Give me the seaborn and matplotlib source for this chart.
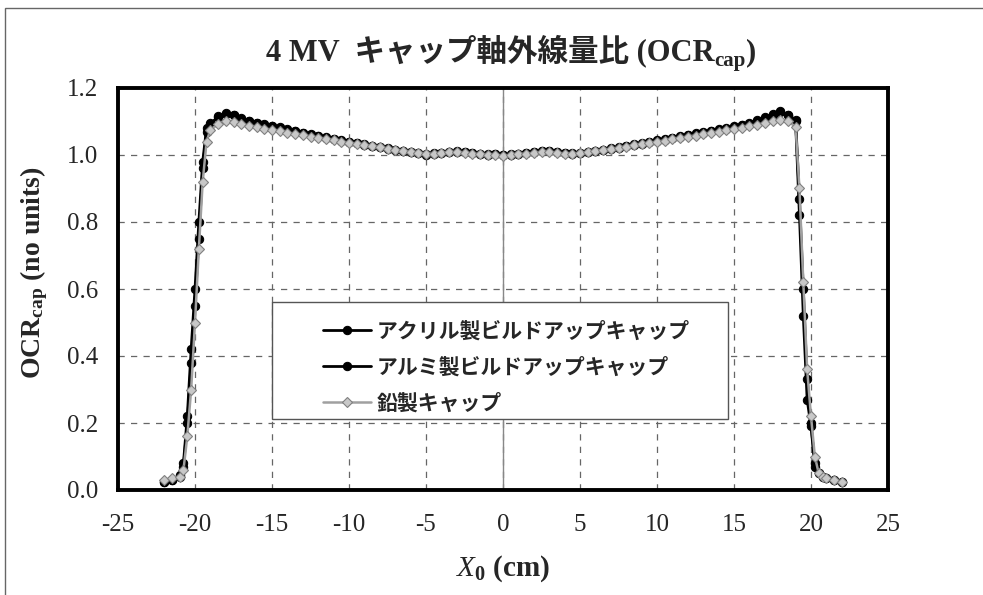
import matplotlib
matplotlib.use("Agg")
import matplotlib.pyplot as plt
import seaborn as sns
import pandas as pd
from matplotlib.patches import Rectangle

# off-axis position (cm)
x_cm = [-22.0, -21.5, -21.0, -20.75, -20.5, -20.25, -20.0, -19.75, -19.5, -19.25, -19.0,
        -18.5, -18.0, -17.5, -17.0, -16.5, -16.0, -15.5, -15.0, -14.5, -14.0,
        -13.5, -13.0, -12.5, -12.0, -11.5, -11.0, -10.5, -10.0, -9.5, -9.0,
        -8.5, -8.0, -7.5, -7.0, -6.5, -6.0, -5.5, -5.0, -4.5, -4.0,
        -3.5, -3.0, -2.5, -2.0, -1.5, -1.0, -0.5, 0.0, 0.5, 1.0,
        1.5, 2.0, 2.5, 3.0, 3.5, 4.0, 4.5, 5.0, 5.5, 6.0,
        6.5, 7.0, 7.5, 8.0, 8.5, 9.0, 9.5, 10.0, 10.5, 11.0,
        11.5, 12.0, 12.5, 13.0, 13.5, 14.0, 14.5, 15.0, 15.5, 16.0,
        16.5, 17.0, 17.5, 18.0, 18.5,
        19.0, 19.25, 19.5, 19.75, 20.0, 20.25, 20.5, 20.75, 21.0, 21.5, 22.0]

acrylic = [0.025, 0.03, 0.04, 0.07, 0.20, 0.38, 0.55, 0.75, 0.96, 1.07, 1.09,
           1.115, 1.125, 1.120, 1.110, 1.100, 1.097, 1.092, 1.087, 1.083, 1.078,
           1.072, 1.067, 1.063, 1.058, 1.053, 1.049, 1.044, 1.040, 1.036, 1.032,
           1.028, 1.024, 1.020, 1.016, 1.012, 1.009, 1.006, 1.000, 1.004, 1.006,
           1.010, 1.011, 1.009, 1.006, 1.004, 1.002, 1.003, 1.000, 1.001, 1.003,
           1.006, 1.008, 1.012, 1.013, 1.010, 1.006, 1.005, 1.006, 1.009, 1.012,
           1.015, 1.019, 1.022, 1.026, 1.030, 1.034, 1.038, 1.042, 1.046, 1.050,
           1.055, 1.059, 1.063, 1.067, 1.071, 1.075, 1.079, 1.084, 1.089, 1.094,
           1.100, 1.108, 1.118, 1.127, 1.118,
           1.10, 0.82, 0.52, 0.27, 0.19, 0.08, 0.05, 0.04, 0.035, 0.03, 0.025]

alumi = [0.025, 0.03, 0.045, 0.08, 0.22, 0.42, 0.60, 0.80, 0.98, 1.08, 1.095,
         1.112, 1.122, 1.118, 1.108, 1.101, 1.095, 1.090, 1.086, 1.081, 1.076,
         1.071, 1.066, 1.061, 1.056, 1.052, 1.047, 1.043, 1.039, 1.035, 1.031,
         1.027, 1.023, 1.019, 1.015, 1.011, 1.008, 1.005, 1.002, 1.005, 1.007,
         1.009, 1.010, 1.008, 1.005, 1.003, 1.001, 1.002, 1.000, 1.002, 1.004,
         1.007, 1.009, 1.013, 1.012, 1.009, 1.006, 1.004, 1.006, 1.010, 1.013,
         1.016, 1.020, 1.024, 1.028, 1.032, 1.036, 1.040, 1.044, 1.048, 1.052,
         1.057, 1.061, 1.065, 1.069, 1.073, 1.077, 1.081, 1.086, 1.091, 1.096,
         1.103, 1.112, 1.121, 1.130, 1.120,
         1.105, 0.87, 0.60, 0.33, 0.20, 0.07, 0.05, 0.04, 0.035, 0.03, 0.025]

lead = [0.03, 0.035, 0.04, 0.06, 0.16, 0.30, 0.50, 0.72, 0.92, 1.04, 1.075,
        1.092, 1.100, 1.098, 1.092, 1.087, 1.083, 1.079, 1.075, 1.071, 1.067,
        1.063, 1.059, 1.055, 1.051, 1.047, 1.044, 1.040, 1.037, 1.033, 1.030,
        1.026, 1.023, 1.019, 1.016, 1.012, 1.009, 1.006, 1.003, 1.004, 1.006,
        1.008, 1.008, 1.006, 1.004, 1.002, 1.001, 1.000, 0.998, 1.000, 1.002,
        1.004, 1.006, 1.008, 1.008, 1.006, 1.004, 1.004, 1.006, 1.009, 1.012,
        1.015, 1.018, 1.022, 1.025, 1.029, 1.032, 1.036, 1.040, 1.043, 1.047,
        1.051, 1.055, 1.058, 1.062, 1.066, 1.070, 1.074, 1.078, 1.082, 1.086,
        1.090, 1.095, 1.101, 1.105, 1.100,
        1.085, 0.90, 0.62, 0.36, 0.22, 0.10, 0.05, 0.04, 0.035, 0.03, 0.025]

labels = ["アクリル製ビルドアップキャップ", "アルミ製ビルドアップキャップ", "鉛製キャップ"]
x_ticks = [-25, -20, -15, -10, -5, 0, 5, 10, 15, 20, 25]
y_ticks = [0.0, 0.2, 0.4, 0.6, 0.8, 1.0, 1.2]

df = pd.DataFrame({"x": x_cm, "acrylic": acrylic, "alumi": alumi, "lead": lead})

sns.set_style("white")
plt.rcParams["font.family"] = ["Liberation Serif", "Noto Sans CJK JP"]
plt.rcParams["mathtext.fontset"] = "custom"
plt.rcParams["mathtext.rm"] = "Liberation Serif"
plt.rcParams["mathtext.it"] = "Liberation Serif:italic"
plt.rcParams["mathtext.bf"] = "Liberation Serif:bold"

fig = plt.figure(figsize=(9.83, 5.95), dpi=100)
fig.patches.append(Rectangle((5 / 983, -0.1), 1.2, 1.1 - 8 / 595, transform=fig.transFigure,
                             fill=False, edgecolor="#666666", lw=1.0))
ax = fig.add_axes([118 / 983, 105 / 595, 770 / 983, 402 / 595])

sns.lineplot(data=df, x="x", y="acrylic", ax=ax, color="black", lw=2.0,
             marker="o", ms=6, mec="black", label=labels[0], zorder=3)
sns.lineplot(data=df, x="x", y="alumi", ax=ax, color="black", lw=2.0,
             marker="o", ms=6, mec="black", label=labels[1], zorder=3)
sns.lineplot(data=df, x="x", y="lead", ax=ax, color="#a0a0a0", lw=1.8,
             marker="D", ms=5, mfc="#c8c8c8", mec="#808080", mew=0.8,
             label=labels[2], zorder=4)

ax.set_xlim(-25, 25)
ax.set_ylim(0, 1.2)
ax.set_xticks(x_ticks)
ax.set_yticks(y_ticks)
ax.set_xticklabels([str(t) for t in x_ticks])
ax.set_yticklabels([f"{t:.1f}" for t in y_ticks])
ax.tick_params(axis="x", direction="in", length=4, width=0.8, color="#555555",
               labelsize=18, pad=17)
ax.tick_params(axis="y", length=0, labelsize=18, pad=14)

ax.grid(True, color="#666666", ls=(0, (5, 5)), lw=0.9)
ax.axvline(0, color="#888888", lw=1.0, zorder=1)
for s in ax.spines.values():
    s.set_linewidth(2.8)
    s.set_color("black")

ax.set_xlabel(r"$\mathit{X}_{\mathregular{0}}$ (cm)", fontsize=21, fontweight="bold", labelpad=13)
ax.set_ylabel(r"OCR$_{\mathbf{cap}}$ (no units)", fontsize=20, fontweight="bold")
ax.yaxis.set_label_coords(-0.088, 0.54)

ax.add_patch(Rectangle((0.2, 0.177), 0.592, 0.291, transform=ax.transAxes,
                       facecolor="white", edgecolor="#555555", lw=1.0, zorder=5))
leg = ax.legend(loc="upper left", bbox_to_anchor=(0.266, 0.422), frameon=False,
                prop={"family": ["Noto Sans CJK JP"], "size": 15, "weight": "bold"},
                handlelength=2.3, handletextpad=0.3, labelspacing=0.72,
                borderpad=0, borderaxespad=0)
leg.set_zorder(6)

# title with subscript, assembled piece by piece
fig.canvas.draw()
r = fig.canvas.get_renderer()
ty = 1 - 60 / 595
t1 = fig.text(0, ty, "4 MV  キャップ軸外線量比 (OCR", fontsize=22, fontweight="bold", va="baseline")
t2 = fig.text(0, ty - 6 / 595, "cap", fontsize=15, fontweight="bold", va="baseline")
t3 = fig.text(0, ty, ")", fontsize=22, fontweight="bold", va="baseline")
w1 = t1.get_window_extent(r).width
w2 = t2.get_window_extent(r).width
w3 = t3.get_window_extent(r).width
x0 = (511 - (w1 + w2 + w3) / 2)
t1.set_x(x0 / 983)
t2.set_x((x0 + w1) / 983)
t3.set_x((x0 + w1 + w2) / 983)

fig.savefig("out.png", dpi=100)
